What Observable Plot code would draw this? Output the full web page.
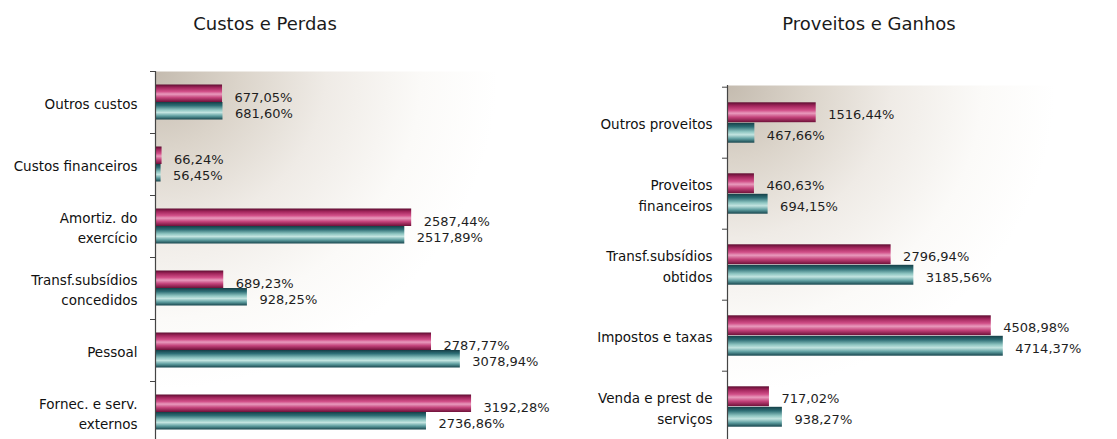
<!DOCTYPE html>
<html><head><meta charset="utf-8">
<script src="https://cdn.jsdelivr.net/npm/d3@7"></script>
<script src="https://cdn.jsdelivr.net/npm/@observablehq/plot@0.6"></script>
<style>
html,body{margin:0;padding:0;background:#fff;overflow:hidden;}
#wrap{position:relative;width:1117px;height:439px;overflow:hidden;font-family:"DejaVu Sans",sans-serif;background:#fff;}
.title{position:absolute;top:13px;font-size:18px;color:#1a1a1a;transform:translateX(-50%);white-space:nowrap;}
.panel{position:absolute;top:0;}
</style></head><body>
<svg width="0" height="0" style="position:absolute">
  <defs>
    <linearGradient id="gM" x1="0" y1="0" x2="0" y2="1">
      <stop offset="0" stop-color="#5e0d31"/>
      <stop offset="0.18" stop-color="#a3265d"/>
      <stop offset="0.4" stop-color="#d14f88"/>
      <stop offset="0.55" stop-color="#e99abd"/>
      <stop offset="0.75" stop-color="#c4437b"/>
      <stop offset="1" stop-color="#6e1038"/>
    </linearGradient>
    <linearGradient id="gT" x1="0" y1="0" x2="0" y2="1">
      <stop offset="0" stop-color="#153f47"/>
      <stop offset="0.2" stop-color="#2d6e75"/>
      <stop offset="0.45" stop-color="#8fc6c2"/>
      <stop offset="0.6" stop-color="#c2e4e0"/>
      <stop offset="0.8" stop-color="#5e9ea0"/>
      <stop offset="1" stop-color="#17454d"/>
    </linearGradient>
    <radialGradient id="bg" cx="0" cy="0" r="0.95" fx="0" fy="0">
      <stop offset="0" stop-color="#c4bbaf"/>
      <stop offset="0.22" stop-color="#dbd4ca"/>
      <stop offset="0.45" stop-color="#efebe6"/>
      <stop offset="0.7" stop-color="#fbfaf8"/>
      <stop offset="0.9" stop-color="#ffffff"/>
    </radialGradient>
  </defs>
</svg>
<div id="wrap">
  <div class="title" style="left:265px">Custos e Perdas</div>
  <div class="title" style="left:869px">Proveitos e Ganhos</div>
  <div id="left" class="panel" style="left:0"></div>
  <div id="right" class="panel" style="left:560px"></div>
</div>
<script>
const costCategories = ["Outros custos", "Custos financeiros", "Amortiz. do\nexercício", "Transf.subsídios\nconcedidos", "Pessoal", "Fornec. e serv.\nexternos"];
const costSeriesA = [677.05, 66.24, 2587.44, 689.23, 2787.77, 3192.28];
const costSeriesB = [681.60, 56.45, 2517.89, 928.25, 3078.94, 2736.86];

const revenueCategories = ["Outros proveitos", "Proveitos\nfinanceiros", "Transf.subsídios\nobtidos", "Impostos e taxas", "Venda e prest de\nserviços"];
const revenueSeriesA = [1516.44, 460.63, 2796.94, 4508.98, 717.02];
const revenueSeriesB = [467.66, 694.15, 3185.56, 4714.37, 938.27];

const fmt = v => v.toFixed(2).replace(".", ",") + "%";

function panel({categories, a, b, width, marginLeft, marginRight, marginTop, height, xMax, barH, labelDx, dyA, dyB}) {
  const rows = categories.map((c, i) => ({cat: c, a: a[i], b: b[i]}));
  const step = (height - marginTop) / categories.length;
  const half = step / 2;
  const outer = half - barH;
  return Plot.plot({
    width, height, marginLeft, marginRight, marginTop, marginBottom: 0,
    x: {domain: [0, xMax], axis: null},
    y: {domain: categories, padding: 0, axis: null},
    style: {fontFamily: "DejaVu Sans, sans-serif", fontSize: "13px", background: "transparent", color: "#1a1a1a", overflow: "visible"},
    marks: [
      Plot.frame({fill: "url(#bg)", stroke: null}),
      Plot.barX(rows, {x: "a", y: "cat", fill: "url(#gM)", insetTop: outer, insetBottom: half}),
      Plot.barX(rows, {x: "b", y: "cat", fill: "url(#gT)", insetTop: half, insetBottom: outer}),
      Plot.ruleX([0], {stroke: "#444", strokeWidth: 1.2}),
      Plot.axisY({tickSize: 5, text: null, label: null, dy: -half, stroke: "#444"}),
      Plot.text(rows, {x: "a", y: "cat", text: d => fmt(d.a), dx: 12, dy: dyA, textAnchor: "start", fill: "#1e1e1e", fontSize: 13}),
      Plot.text(rows, {x: "b", y: "cat", text: d => fmt(d.b), dx: 12, dy: dyB, textAnchor: "start", fill: "#1e1e1e", fontSize: 13}),
      Plot.text(rows, {y: "cat", text: "cat", frameAnchor: "left", dx: labelDx, textAnchor: "end", lineHeight: 1.5, fill: "#111", fontSize: 13.5})
    ]
  });
}

document.getElementById("left").append(panel({
  categories: costCategories, a: costSeriesA, b: costSeriesB,
  width: 560, marginLeft: 155, marginRight: 5, marginTop: 71, height: 443,
  xMax: 4040, barH: 17.5, labelDx: -18, dyA: -5, dyB: 11
}));

document.getElementById("right").append(panel({
  categories: revenueCategories, a: revenueSeriesA, b: revenueSeriesB,
  width: 557, marginLeft: 167, marginRight: 7, marginTop: 85, height: 443,
  xMax: 6547, barH: 20.5, labelDx: -15, dyA: -8, dyB: 13
}));
</script>
</body></html>
